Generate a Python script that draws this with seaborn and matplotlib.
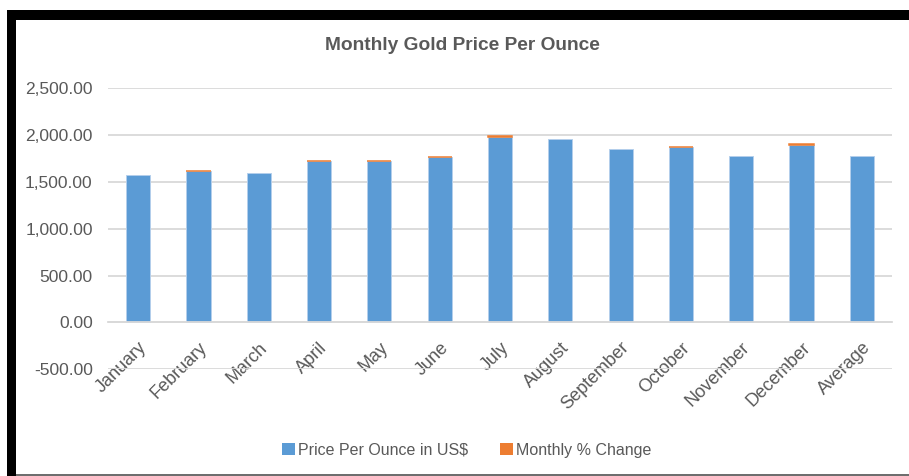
import numpy as np
import matplotlib.pyplot as plt
import matplotlib.ticker as mticker
from matplotlib.patches import Rectangle, Patch
import seaborn as sns

# values
months = ["January", "February", "March", "April", "May", "June", "July",
          "August", "September", "October", "November", "December", "Average"]
price = [1574, 1617, 1596, 1719, 1719, 1766, 1975, 1961, 1857, 1872, 1780, 1894, 1780]
pct_change = [np.nan, 2.73, -1.30, 7.71, 0.50, 2.73, 11.84, -0.71, -5.30, 0.81, -4.91, 6.40, np.nan]
y_ticks = [-500, 0, 500, 1000, 1500, 2000, 2500]

BLUE = "#5B9BD5"
ORANGE = "#ED7D31"
GREY_TXT = "#595959"
GRID = "#D9D9D9"

sns.set_theme(style="white")
plt.rcParams['font.family'] = ['Liberation Sans', 'DejaVu Sans']

W, H = 909, 476
fig = plt.figure(figsize=(W / 100, H / 100), dpi=100)
ax = fig.add_axes([108 / W, 1 - 369.3 / H, 784 / W, 281 / H])

# price bars
sns.barplot(x=months, y=price, color=BLUE, saturation=1, width=0.4,
            edgecolor="#B4CFEC", linewidth=0.7, ax=ax, zorder=2)

# monthly % change stacked on top of the price bar
# (the negative months are well under a pixel tall below zero, so not drawn)
pct = np.array(pct_change, dtype=float)
pr = np.array(price, dtype=float)
xs = np.arange(len(months))
up = np.nan_to_num(pct) > 0
ax.bar(xs[up], pct[up], bottom=pr[up], width=0.4, color=ORANGE,
       edgecolor=ORANGE, linewidth=1.1, zorder=3)

ax.set_xlim(-0.5, len(months) - 0.5)
ax.set_ylim(-500, 2500)
ax.set_yticks(y_ticks)
ax.yaxis.set_major_formatter(mticker.FuncFormatter(lambda v, p: f"{v:,.2f}"))
ax.grid(axis='y', color=GRID, linewidth=1.3)
ax.set_axisbelow(True)
ax.set_xlabel("")
ax.set_ylabel("")

for s in ["left", "right", "top"]:
    ax.spines[s].set_visible(False)
ax.spines["bottom"].set_position(("data", 0))
ax.spines["bottom"].set_color(GRID)
ax.spines["bottom"].set_linewidth(1.3)

ax.tick_params(axis='y', length=0, pad=11, labelsize=12.5, labelcolor=GREY_TXT)
ax.tick_params(axis='x', length=0, pad=12, labelsize=13, labelcolor=GREY_TXT)
for lab in ax.get_xticklabels():
    lab.set_rotation(45)
    lab.set_ha("right")
    lab.set_va("top")
    lab.set_rotation_mode("anchor")

fig.text(462 / W, 1 - 45 / H, "Monthly Gold Price Per Ounce", ha="center", va="center",
         fontsize=13.8, fontweight="bold", color=GREY_TXT)

handles = [Patch(facecolor=BLUE, edgecolor="none"), Patch(facecolor=ORANGE, edgecolor="none")]
fig.legend(handles, ["Price Per Ounce in US$", "Monthly % Change"], loc="center",
           bbox_to_anchor=(467 / W, 1 - 450 / H), ncol=2, frameon=False,
           fontsize=11.5, labelcolor=GREY_TXT, handlelength=0.8, handleheight=0.8,
           handletextpad=0.2, columnspacing=2.0)

# frame of the screenshot (thick black top and left, thin grey bottom)
fig.add_artist(Rectangle((7 / W, 1 - 19.5 / H), 1 - 7 / W, 9 / H, transform=fig.transFigure,
                         facecolor="black", edgecolor="none", zorder=10))
fig.add_artist(Rectangle((7 / W, 0), 9 / W, 1 - 10.5 / H, transform=fig.transFigure,
                         facecolor="black", edgecolor="none", zorder=10))
fig.add_artist(Rectangle((16 / W, 0), 1 - 16 / W, 2 / H, transform=fig.transFigure,
                         facecolor="#6E6E6E", edgecolor="none", zorder=10))

fig.savefig("out.png", dpi=100)
